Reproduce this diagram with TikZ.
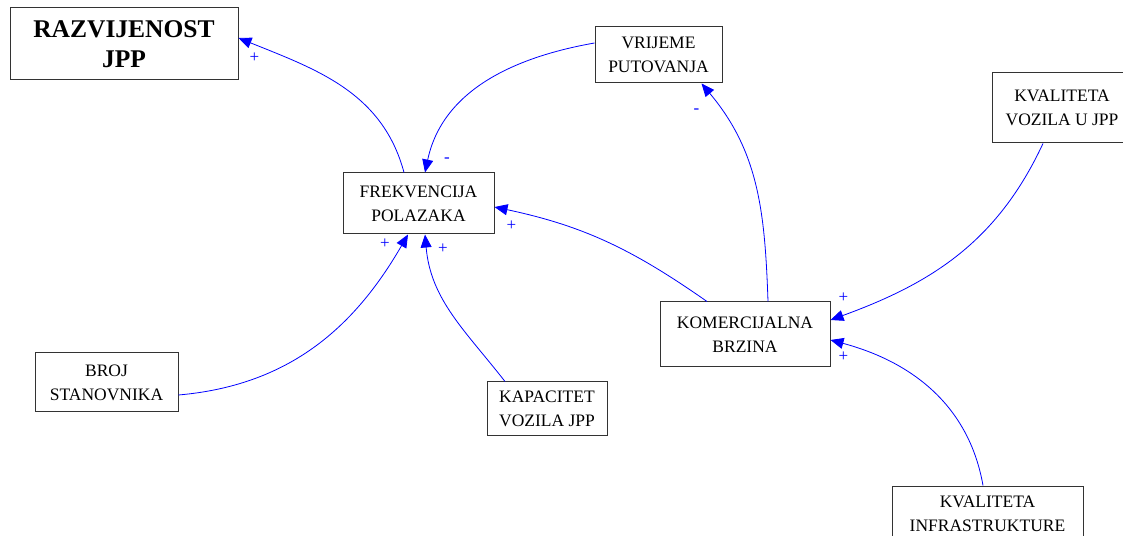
\documentclass[tikz,border=0pt]{standalone}
\usepackage{fontspec}
\setmainfont{Liberation Serif}
\usetikzlibrary{arrows.meta}

\tikzset{
  blok/.style={draw=black!80, line width=1pt, align=center, inner sep=2pt,
    font=\fontsize{17.5}{24}\selectfont},
  veza/.style={blue, line width=0.8pt, -{Triangle[length=13pt,width=11pt]}},
  znak/.style={blue, font=\fontsize{17}{17}\selectfont}
}

\begin{document}
\begin{tikzpicture}[x=1pt,y=1pt]
  \useasboundingbox (0,0) rectangle (1123,535);
  \fill[white] (0,0) rectangle (1123,535);
  \node[blok, minimum width=228pt, minimum height=72pt, font=\fontsize{25.5}{30}\selectfont\bfseries] (razv) at (124,491) {RAZVIJENOST\\JPP};
  \node[blok, minimum width=151pt, minimum height=61pt] (frek) at (418.5,331.5) {FREKVENCIJA\\POLAZAKA};
  \node[blok, minimum width=127pt, minimum height=56pt] (vrij) at (658.5,480) {VRIJEME\\PUTOVANJA};
  \node[blok, minimum width=170pt, minimum height=65pt] (kom) at (745,200.5) {KOMERCIJALNA\\BRZINA};
  \node[blok, minimum width=140pt, minimum height=70pt] (kvv) at (1062,427) {KVALITETA\\VOZILA U JPP};
  \node[blok, minimum width=191pt, minimum height=55pt] (kvi) at (987.5,21.5) {KVALITETA\\INFRASTRUKTURE};
  \node[blok, minimum width=143pt, minimum height=59pt] (broj) at (106.5,152.5) {BROJ\\STANOVNIKA};
  \node[blok, minimum width=120pt, minimum height=54pt] (kap) at (547,126) {KAPACITET\\VOZILA JPP};

  \draw[veza] ([xshift=-14.5pt]frek.north) to[out=105,in=-22] node[znak, at end, xshift=16pt, yshift=-20pt] {+} ([yshift=6pt]razv.east);
  \draw[veza] ([yshift=12pt]vrij.west) to[out=190,in=78] node[znak, at end, xshift=22pt, yshift=12pt] {-} ([xshift=6.5pt]frek.north);
  \draw[veza] ([xshift=23pt]kom.north) to[out=92,in=-50] node[znak, at end, xshift=-5pt, yshift=-28pt] {-} ([xshift=43pt]vrij.south);
  \draw[veza] ([xshift=-38pt]kom.north) to[out=145,in=-12] node[znak, at end, xshift=17pt, yshift=-19pt] {+} ([yshift=-3.5pt]frek.east);
  \draw[veza] ([yshift=-12.5pt]broj.east) to[out=5,in=240] node[znak, at end, xshift=-23pt, yshift=-9pt] {+} ([xshift=-10.5pt]frek.south);
  \draw[veza] ([xshift=-42pt]kap.north) to[out=128,in=-85] node[znak, at end, xshift=18pt, yshift=-14pt] {+} ([xshift=6.5pt]frek.south);
  \draw[veza] ([xshift=-19pt]kvv.south) to[out=245,in=20] node[znak, at end, xshift=13pt, yshift=22pt] {+} ([yshift=14.5pt]kom.east);
  \draw[veza] ([xshift=-4.5pt]kvi.north) to[out=100,in=-15] node[znak, at end, xshift=13pt, yshift=-17pt] {+} ([yshift=-5.5pt]kom.east);
\end{tikzpicture}
\end{document}
